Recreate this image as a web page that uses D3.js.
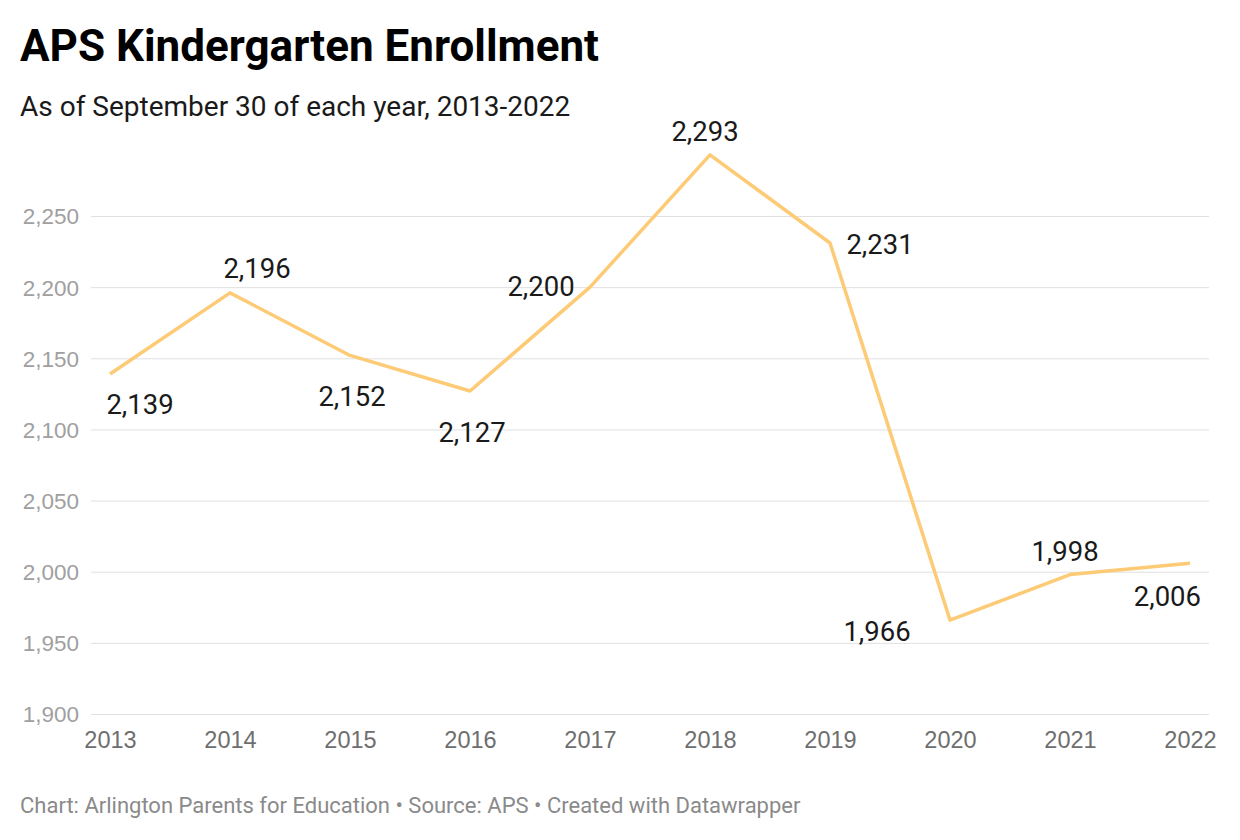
<!DOCTYPE html>
<html lang="en">
<head>
    <meta charset="UTF-8">
    <title>APS Kindergarten Enrollment</title>
    <script src="https://d3js.org/d3.v7.min.js"></script>
    <style>
        body {
            margin: 0;
            padding: 0;
            background: #fff;
            font-family: Roboto, "Noto Sans", Arial, sans-serif;
        }

        .title {
            font-size: 44px;
            font-weight: 700;
            fill: #000;
        }

        .subtitle {
            font-size: 28px;
            fill: #1a1a1a;
        }

        .y-axis text {
            font-size: 22.5px;
            fill: #a0a0a0;
        }

        .x-axis text {
            font-size: 23.5px;
            fill: #6e6e6e;
        }

        .value-label {
            font-size: 27.5px;
            fill: #1a1a1a;
        }

        .footer {
            font-size: 22px;
            fill: #8a8a8a;
        }
    </style>
</head>
<body>
<svg id="chart"></svg>

<script>
    const years = [2013, 2014, 2015, 2016, 2017, 2018, 2019, 2020, 2021, 2022];
    const enrollment = [2139, 2196, 2152, 2127, 2200, 2293, 2231, 1966, 1998, 2006];
    const yTicks = [1900, 1950, 2000, 2050, 2100, 2150, 2200, 2250];
    // where each value label sits relative to its point
    const labelPlacement = ["below-right", "above-right", "below", "below", "left",
                            "above", "right", "below-left", "above", "below-end"];

    const width = 1240;
    const height = 840;

    const svg = d3.select("#chart")
        .attr("width", width)
        .attr("height", height);

    svg.append("text")
        .attr("class", "title")
        .attr("x", 20)
        .attr("y", 61)
        .text("APS Kindergarten Enrollment");

    svg.append("text")
        .attr("class", "subtitle")
        .attr("x", 20)
        .attr("y", 116)
        .text("As of September 30 of each year, 2013-2022");

    const x = d3.scalePoint()
        .domain(years)
        .range([110, 1190]);

    const y = d3.scaleLinear()
        .domain([1900, 2250])
        .range([714, 216]);

    // gridlines + y labels
    const yAxis = svg.append("g")
        .attr("class", "y-axis")
        .attr("transform", "translate(91,0)")
        .call(d3.axisLeft(y)
            .tickValues(yTicks)
            .tickFormat(d3.format(","))
            .tickSize(-(1209 - 91))
            .tickPadding(12));

    yAxis.select(".domain").remove();
    yAxis.selectAll(".tick line")
        .attr("stroke", "#e0e0e0")
        .attr("stroke-width", 1);
    yAxis.selectAll(".tick text")
        .attr("dy", "0.35em");

    const xAxis = svg.append("g")
        .attr("class", "x-axis")
        .attr("transform", "translate(0,714)")
        .call(d3.axisBottom(x)
            .tickFormat(d => d)
            .tickSize(0)
            .tickPadding(17));

    xAxis.select(".domain").remove();
    xAxis.selectAll(".tick text").attr("dy", "0.71em");

    const points = years.map((yr, i) => ({ year: yr, value: enrollment[i], place: labelPlacement[i] }));

    const line = d3.line()
        .x(d => x(d.year))
        .y(d => y(d.value));

    svg.append("path")
        .datum(points)
        .attr("d", line)
        .attr("fill", "none")
        .attr("stroke", "#fdca76")
        .attr("stroke-width", 3.5)
        .attr("stroke-linejoin", "round");

    const offsets = {
        "below-right": { dx: 30, dy: 40, anchor: "middle" },
        "above-right": { dx: 27, dy: -15, anchor: "middle" },
        "below": { dx: 2, dy: 51, anchor: "middle" },
        "left": { dx: -49, dy: 9, anchor: "middle" },
        "above": { dx: -5, dy: -14, anchor: "middle" },
        "right": { dx: 50, dy: 11, anchor: "middle" },
        "below-left": { dx: -73, dy: 21, anchor: "middle" },
        "below-end": { dx: 11, dy: 43, anchor: "end" }
    };

    svg.selectAll(".value-label")
        .data(points)
        .enter().append("text")
        .attr("class", "value-label")
        .attr("x", d => x(d.year) + offsets[d.place].dx)
        .attr("y", d => y(d.value) + offsets[d.place].dy)
        .attr("text-anchor", d => offsets[d.place].anchor)
        .text(d => d3.format(",")(d.value));

    svg.append("text")
        .attr("class", "footer")
        .attr("x", 20)
        .attr("y", 813)
        .text("Chart: Arlington Parents for Education \u2022 Source: APS \u2022 Created with Datawrapper");
</script>
</body>
</html>
